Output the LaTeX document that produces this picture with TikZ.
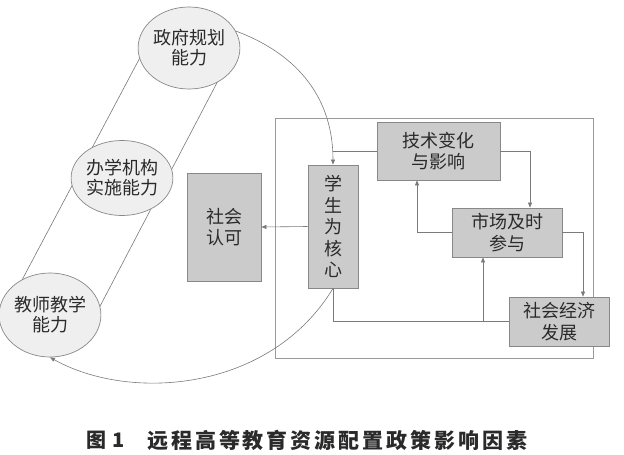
\documentclass[tikz,border=0pt]{standalone}
\usepackage{fontspec}
\newfontfamily\cjk{Noto Sans CJK SC}
\newfontfamily\capfont[LetterSpace=14]{Noto Sans CJK SC}
\usetikzlibrary{arrows.meta,shapes.geometric,calc}
\definecolor{txt}{HTML}{2A2A2A}
\definecolor{boxfill}{HTML}{CBCBCB}
\definecolor{boxline}{HTML}{888888}
\definecolor{circfill}{HTML}{EFEFEF}
\definecolor{lin}{HTML}{7A7A7A}
\definecolor{frm}{HTML}{9A9A9A}
\tikzset{
  circ/.style={ellipse,draw=boxline,fill=circfill,line width=0.7pt,inner sep=0pt,
    text=txt,font=\cjk\fontsize{18}{20}\selectfont,align=center},
  gbox/.style={rectangle,draw=boxline,fill=boxfill,line width=0.8pt,inner sep=0pt,
    text=txt,font=\cjk\fontsize{18}{21.5}\selectfont,align=center},
  conn/.style={draw=lin,line width=0.6pt},
  arr/.style={conn,-{Triangle[length=5pt,width=4pt]}},
}
\begin{document}
\begin{tikzpicture}[x=1pt,y=-1pt]
\useasboundingbox[fill=white] (0,0) rectangle (624,455);
% frame
\node[draw=frm,line width=0.7pt,minimum width=318pt,minimum height=240pt,inner sep=0pt] (frame) at (434,238) {};
% capsule lines (behind circles)
\coordinate (gL) at (144,50);
\coordinate (gR) at (220,77);
\coordinate (tL) at (22,280);
\coordinate (tR) at (97,312);
\draw[conn] (gL) -- (tL);
\draw[conn] (gR) -- (tR);
% circles
\node[circ,minimum width=90pt,minimum height=82pt] (gov) at (189,48) {政府规划\\能力};
\node[circ,minimum width=80pt,minimum height=75pt] (inst) at (122,178) {办学机构\\实施能力};
\node[circ,minimum width=90pt,minimum height=84pt] (tea) at (50,315) {教师教学\\能力};
% boxes
\node[gbox,minimum width=74pt,minimum height=108pt] (rec) at (224,227) {社会\\认可};
\node[gbox,minimum width=50pt,minimum height=123pt] (stu) at (333,226.5) {学\\生\\为\\核\\心};
\node[gbox,minimum width=123pt,minimum height=58pt] (tech) at (438.5,151) {技术变化\\与影响};
\node[gbox,minimum width=110pt,minimum height=49pt] (mkt) at (507,232.5) {市场及时\\参与};
\node[gbox,minimum width=100pt,minimum height=49pt] (eco) at (559,321.5) {社会经济\\发展};
% connectors
\draw[arr] (stu.west) -- (rec.east);
\coordinate (j1) at (stu.north |- tech.west);
\draw[conn] (tech.west) -- (j1);
\draw[arr] (gov.20) .. controls (300,55) and (333,100) .. (stu.north);
\draw[arr] (tech.east) -| ([xshift=23pt]mkt.north);
\draw[arr] (mkt.west) -| ([xshift=-21.5pt]tech.south);
\draw[arr] (mkt.east) -| ([xshift=24pt]eco.north);
\coordinate (j2) at ([xshift=-24pt]mkt.south |- eco.west);
\draw[conn] (eco.west) -- (j2);
\draw[arr] (j2) -- ([xshift=-24pt]mkt.south);
\draw[conn] (j2) -| (stu.south);
\draw[arr] (stu.south) .. controls (270,392) and (130,402) .. (tea.south);
% caption
\node[anchor=west,inner sep=0pt,text=txt,font=\cjk\bfseries\fontsize{20}{22}\selectfont] (fig) at (86,440) {图\hspace{6pt}1};
\node[anchor=west,inner sep=0pt,text=txt,font=\capfont\bfseries\fontsize{21}{24}\selectfont] (cap) at (147,440) {远程高等教育资源配置政策影响因素};
\end{tikzpicture}
\end{document}
